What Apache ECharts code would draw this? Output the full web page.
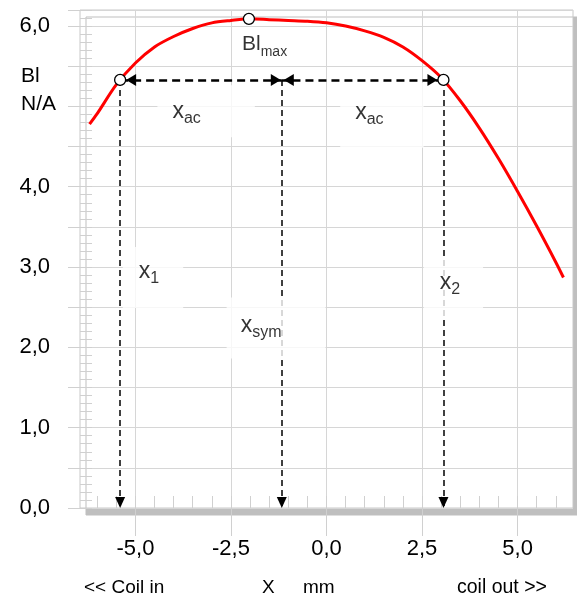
<!DOCTYPE html>
<html>
<head>
<meta charset="utf-8">
<script src="https://cdn.jsdelivr.net/npm/echarts@6/dist/echarts.min.js"></script>
<style>
html, body { margin: 0; padding: 0; background: #fff; }
#bl-curve { width: 577px; height: 598px; }
</style>
</head>
<body>
<div id="bl-curve"></div>
<script>
// force factor curve Bl(x)
const curveX = [-6.2, -6.0, -5.5, -5.0, -4.5, -4.0, -3.5, -3.0, -2.5, -2.0, -1.5, -1.0, -0.5, 0.0,
    0.5, 1.0, 1.5, 2.0, 2.5, 3.0, 3.5, 4.0, 4.5, 5.0, 5.5, 6.0, 6.2];
const curveY = [4.78, 4.91, 5.27, 5.54, 5.74, 5.87, 5.97, 6.04, 6.07, 6.09, 6.08, 6.07, 6.06, 6.04,
    6.00, 5.94, 5.86, 5.74, 5.57, 5.36, 5.07, 4.73, 4.35, 3.94, 3.51, 3.06, 2.87];

// x1, Bl max, x2
const pointX = [-5.40, -2.03, 3.06];
const pointY = [5.33, 6.09, 5.33];
const xSym = -1.17;
const yAc = 5.33;

const xTickValues = [-5, -2.5, 0, 2.5, 5];
const xMinorValues = [-6, -5.5, -5, -4.5, -4, -3.5, -3, -2.5, -2, -1.5, -1, -0.5, 0,
    0.5, 1, 1.5, 2, 2.5, 3, 3.5, 4, 4.5, 5, 5.5, 6];
const yLabelValues = [0, 1, 2, 3, 4, 6];

// annotation texts (main letter + subscript), box centres and paddings
const noteMain = ['x', 'x', 'x', 'x', 'x', 'Bl'];
const noteSub = ['ac', 'ac', '1', 'sym', '2', 'max'];
const noteX = [-3.15, 1.45, -4.54, -1.32, 3.32, -1.62];
const noteY = [4.94, 4.89, 2.87, 2.24, 2.75, 5.77];
const notePad = [[11, 54, 11, 15], [15, 40, 20, 15], [10, 24, 21, 16], [13, 44, 18, 14], [11, 23, 20, 16], [0, 0, 0, 0]];

// arrow heads: where they sit and which way they point
const arrowX = [pointX[0], xSym, xSym, pointX[2], pointX[0], xSym, pointX[2]];
const arrowY = [yAc, yAc, yAc, yAc, 0, 0, 0];
const arrowDir = ['left', 'right', 'left', 'right', 'down', 'down', 'down'];
const arrowGap = [6, 1, 2, 6, 0, 0, 0];

const FONT = '"Liberation Sans", Arial, sans-serif';
const fmt = v => v.toFixed(1).replace('.', ',');

const chart = echarts.init(document.getElementById('bl-curve'));

function arrowItem(i) {
    const d = arrowDir[i];
    if (d === 'down') {
        return { value: [arrowX[i], arrowY[i]], symbolRotate: 180, symbolSize: [10, 11], symbolOffset: [0, -5.5 - arrowGap[i]] };
    }
    const sign = d === 'left' ? 1 : -1;
    return {
        value: [arrowX[i], arrowY[i]],
        symbolRotate: d === 'left' ? 90 : -90,
        symbolSize: [12, 10],
        symbolOffset: [sign * (5 + arrowGap[i]), 0]
    };
}

const option = {
    animation: false,
    backgroundColor: '#fff',
    textStyle: { fontFamily: FONT },
    grid: {
        left: 80, top: 10, right: 4, bottom: 90,
        show: true,
        backgroundColor: '#fff',
        borderColor: '#c8c8c8',
        borderWidth: 1,
        shadowColor: '#bfbfbf',
        shadowBlur: 0,
        shadowOffsetX: 6,
        shadowOffsetY: 7
    },
    xAxis: [{
        type: 'value',
        min: -6.45,
        max: 6.45,
        axisLine: { show: false, onZero: false },
        axisTick: { show: true, customValues: xTickValues, length: 28, lineStyle: { color: '#d0d0d0' } },
        axisLabel: {
            customValues: xTickValues,
            formatter: fmt,
            margin: 30,
            fontSize: 22,
            color: '#000',
            fontFamily: FONT
        },
        splitLine: { show: true, lineStyle: { color: '#d6d6d6', width: 1 } }
    }, {
        type: 'value',
        min: -6.45,
        max: 6.45,
        position: 'bottom',
        axisLine: { show: false, onZero: false },
        axisTick: { show: true, inside: true, customValues: xMinorValues, length: 12, lineStyle: { color: '#d0d0d0' } },
        axisLabel: { show: false },
        splitLine: { show: false }
    }],
    yAxis: [{
        type: 'value',
        min: 0,
        max: 6.2,
        interval: 0.5,
        axisLine: { show: false, onZero: false },
        axisTick: { show: true, length: 12, lineStyle: { color: '#d0d0d0' } },
        axisLabel: {
            formatter: v => yLabelValues.some(l => Math.abs(l - v) < 1e-6) ? fmt(v) : '',
            margin: 30,
            fontSize: 22,
            color: '#000',
            fontFamily: FONT
        },
        splitLine: { show: true, lineStyle: { color: '#d6d6d6', width: 1 } }
    }, {
        type: 'value',
        min: 0,
        max: 6.2,
        interval: 0.1,
        position: 'left',
        axisLine: { show: false, onZero: false },
        axisTick: { show: true, inside: true, length: 12, lineStyle: { color: '#d0d0d0' } },
        axisLabel: { show: false },
        splitLine: { show: false }
    }],
    graphic: [
        { type: 'text', left: 21, top: 62, style: { text: 'Bl\nN/A', fontSize: 21, lineHeight: 28, fontFamily: FONT, fill: '#000' } },
        { type: 'text', left: 84, top: 578, style: { text: '<< Coil in', fontSize: 19, fontFamily: FONT, fill: '#000' } },
        { type: 'text', left: 262, top: 578, style: { text: 'X', fontSize: 19, fontFamily: FONT, fill: '#000' } },
        { type: 'text', left: 303, top: 578, style: { text: 'mm', fontSize: 19, fontFamily: FONT, fill: '#000' } },
        { type: 'text', left: 457, top: 578, style: { text: 'coil out >>', fontSize: 19.5, fontFamily: FONT, fill: '#000' } }
    ],
    series: [
        {
            // horizontal x_ac arrows
            type: 'line',
            data: [],
            z: 3,
            markLine: {
                silent: true,
                animation: false,
                symbol: ['none', 'none'],
                label: { show: false },
                lineStyle: { color: '#000', width: 2.5, type: [8, 5] },
                emphasis: { disabled: true },
                data: [
                    [{ coord: [pointX[0], yAc] }, { coord: [xSym, yAc] }],
                    [{ coord: [pointX[2], yAc] }, { coord: [xSym, yAc] }]
                ]
            }
        },
        {
            // vertical drop lines
            type: 'line',
            data: [],
            z: 3,
            markLine: {
                silent: true,
                animation: false,
                symbol: ['none', 'none'],
                label: { show: false },
                lineStyle: { color: '#000', width: 1.5, type: [6, 4] },
                emphasis: { disabled: true },
                data: [
                    [{ coord: [pointX[0], yAc] }, { coord: [pointX[0], 0] }],
                    [{ coord: [xSym, yAc] }, { coord: [xSym, 0] }],
                    [{ coord: [pointX[2], yAc] }, { coord: [pointX[2], 0] }]
                ]
            }
        },
        {
            // arrow heads
            type: 'scatter',
            z: 3,
            silent: true,
            symbol: 'triangle',
            itemStyle: { color: '#000', opacity: 1 },
            data: arrowX.map((x, i) => arrowItem(i))
        },
        {
            name: 'Bl',
            type: 'line',
            z: 4,
            smooth: 0.3,
            showSymbol: false,
            silent: true,
            data: curveX.map((x, i) => [x, curveY[i]]),
            lineStyle: { color: '#ff0000', width: 3 }
        },
        {
            // text boxes
            type: 'scatter',
            z: 5,
            silent: true,
            symbolSize: 0,
            data: noteX.map((x, i) => ({
                value: [x, noteY[i]],
                label: {
                    show: true,
                    position: 'inside',
                    formatter: '{m|' + noteMain[i] + '}{s|' + noteSub[i] + '}',
                    backgroundColor: i < 5 ? '#fff' : 'transparent',
                    padding: notePad[i],
                    rich: {
                        m: { fontSize: i < 5 ? 23 : 21, lineHeight: 30, fontFamily: FONT, color: '#000' },
                        s: { fontSize: i < 5 ? 16 : 14, lineHeight: 18, verticalAlign: 'bottom', fontFamily: FONT, color: '#000' }
                    }
                }
            }))
        },
        {
            // x1, Bl max, x2 markers
            type: 'scatter',
            z: 6,
            silent: true,
            symbol: 'circle',
            symbolSize: 11,
            itemStyle: { color: '#fff', borderColor: '#000', borderWidth: 1.3, opacity: 1 },
            data: pointX.map((x, i) => [x, pointY[i]])
        }
    ]
};

chart.setOption(option);
</script>
</body>
</html>
